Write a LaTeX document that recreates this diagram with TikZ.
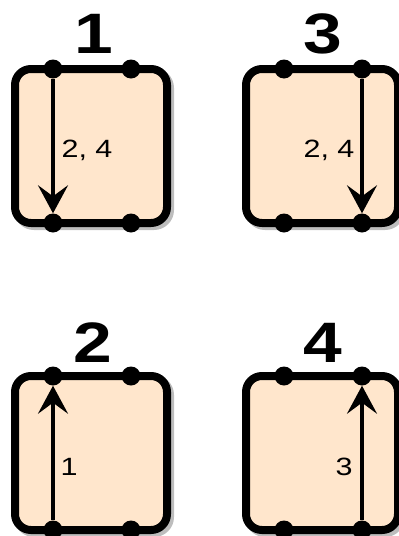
\documentclass[tikz,border=0pt]{standalone}
\usepackage{fontspec}
\setmainfont{Liberation Sans}[FakeStretch=1.22]
\usetikzlibrary{positioning,calc,arrows.meta,shadows}
\definecolor{peach}{HTML}{FFE6CC}
\definecolor{shade}{HTML}{BDBDBD}

\begin{document}
\begin{tikzpicture}[x=1pt, y=-1pt, node distance={153pt and 79pt},
    cell/.style = {draw, line width=8pt, fill=peach, rounded corners=16pt,
        minimum width=152pt, minimum height=154pt, inner sep=0pt, outer sep=0pt,
        drop shadow={shadow xshift=3pt, shadow yshift=-3pt, opacity=1,
            fill=shade, draw=shade, line width=8pt}},
    port/.style = {circle, fill, inner sep=0pt, minimum size=19pt},
    num/.style = {anchor=base, font=\fontsize{57}{57}\selectfont\bfseries},
    lbl/.style = {anchor=base, font=\fontsize{25}{25}\selectfont},
    arr/.style = {-{Stealth[length=28pt, width=30pt, inset=11pt]}, line width=3.5pt}]
        \useasboundingbox (0,0) rectangle (399,536);

        \node[cell] (b1) at (91,146) {};
        \node[cell] (b3) [right=of b1] {};
        \node[cell] (b2) [below=of b1] {};
        \node[cell] (b4) [below=of b3] {};

        \node[num] (n1) at (94,53) {1};
        \node[num] (n3) at (323,53) {3};
        \node[num] (n2) at (93,362) {2};
        \node[num] (n4) at (323,362) {4};

        % pins on the top and bottom edges
        \node[port] (b1nl) at ($(b1.north west)+(38,0)$) {};
        \node[port] (b1nr) at ($(b1.north west)+(116,0)$) {};
        \node[port] (b1sl) at ($(b1.south west)+(38,0)$) {};
        \node[port] (b1sr) at ($(b1.south west)+(116,0)$) {};
        \node[port] (b3nl) at ($(b3.north west)+(38,0)$) {};
        \node[port] (b3nr) at ($(b3.north west)+(116,0)$) {};
        \node[port] (b3sl) at ($(b3.south west)+(38,0)$) {};
        \node[port] (b3sr) at ($(b3.south west)+(116,0)$) {};
        \node[port] (b2nl) at ($(b2.north west)+(38,0)$) {};
        \node[port] (b2nr) at ($(b2.north west)+(116,0)$) {};
        \node[port] (b2sl) at ($(b2.south west)+(38,0)$) {};
        \node[port] (b2sr) at ($(b2.south west)+(116,0)$) {};
        \node[port] (b4nl) at ($(b4.north west)+(38,0)$) {};
        \node[port] (b4nr) at ($(b4.north west)+(116,0)$) {};
        \node[port] (b4sl) at ($(b4.south west)+(38,0)$) {};
        \node[port] (b4sr) at ($(b4.south west)+(116,0)$) {};

        \draw[arr] (b1nl) -- (b1sl);
        \draw[arr] (b3nr) -- (b3sr);
        \draw[arr] (b2sl) -- (b2nl);
        \draw[arr] (b4sr) -- (b4nr);

        \node[lbl] (l1) at (87,157) {2, 4};
        \node[lbl] (l3) at (329,157) {2, 4};
        \node[lbl] (l2) at (69,475) {1};
        \node[lbl] (l4) at (344,475) {3};
    \end{tikzpicture}
\end{document}
